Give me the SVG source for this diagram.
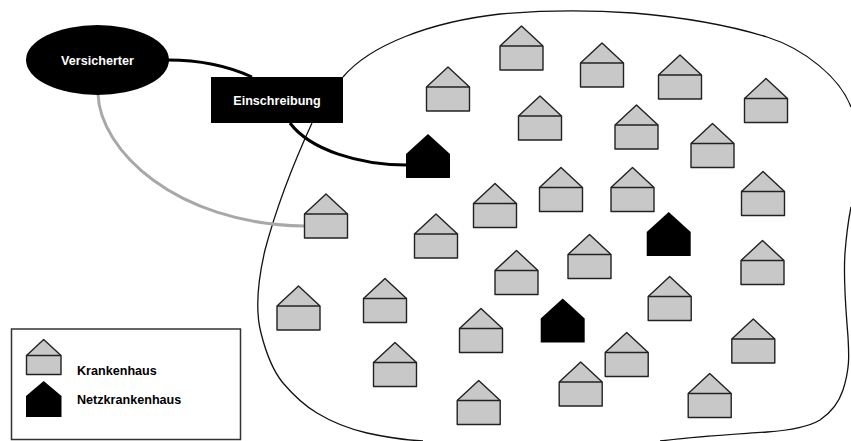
<svg xmlns="http://www.w3.org/2000/svg" width="851" height="441" viewBox="0 0 851 441">
<style>
.t{font-family:"Liberation Sans",Arial,sans-serif;font-weight:700;font-size:12.6px}
.w{fill:#fff;text-anchor:middle}
.h{fill:#c8c8c8;stroke:#222;stroke-width:1.4;stroke-linejoin:round}
.b{fill:#000;stroke:none}
.c{fill:none;stroke-linecap:butt}
</style>
<defs>
<g id="hs"><path class="h" d="M-21.5 20L0 0L21.5 20V44H-21.5Z"/><path class="h" d="M-21.5 20H21.5"/></g>
<path id="bk" class="b" d="M-22 20L0 0L22 20V44H-22Z"/>
</defs>
<rect width="851" height="441" fill="#fff"/>
<g id="connectors">
<path id="region" class="c" stroke="#111" stroke-width="1.3" d="M343 77C370 45 430 22 500 14C545 10 590 10 633 13C680 17 725 24 767 37C805 49 840 78 851 107M312 123C295 160 277 205 265 250C258 280 255 310 261 333C267 357 274 372 283 383C295 397 305 406 317 413C335 424 350 429 367 433C385 437 405 440 423 441M660 441C700 436 740 434 767 432C795 430 810 426 820 420C832 412 839 402 843 390C850 368 849 355 848 337C846 310 843 280 845 253C846 240 848 222 851 207"/>
<path class="c" stroke="#000" stroke-width="3" d="M168 60C200 60 228 66 252 77"/>
<path class="c" stroke="#000" stroke-width="3" d="M290 123C310 150 360 165 406 165"/>
<path class="c" stroke="#a8a8a8" stroke-width="3" d="M98 94C100 150 175 224 304 226"/>
</g>
<g id="versicherter"><ellipse cx="97.500" cy="60" rx="71.500" ry="35" fill="#000"/><text class="t w" x="97.500" y="64.500">Versicherter</text></g>
<g id="einschreibung"><rect x="211" y="77" width="132" height="46" fill="#000"/><text class="t w" x="277" y="104.500">Einschreibung</text></g>
<g id="house-1"><use href="#hs" x="521.500" y="26"/></g>
<g id="house-2"><use href="#hs" x="602" y="43"/></g>
<g id="house-3"><use href="#hs" x="680" y="55"/></g>
<g id="house-4"><use href="#hs" x="766" y="78.500"/></g>
<g id="house-5"><use href="#hs" x="540" y="96"/></g>
<g id="house-6"><use href="#hs" x="636.500" y="105"/></g>
<g id="house-7"><use href="#hs" x="712.500" y="123.500"/></g>
<g id="house-8"><use href="#hs" x="561" y="167.500"/></g>
<g id="house-9"><use href="#hs" x="632.500" y="167.500"/></g>
<g id="house-10"><use href="#hs" x="763" y="171.500"/></g>
<g id="house-11"><use href="#hs" x="448" y="67"/></g>
<g id="house-12"><use href="#hs" x="326" y="194"/></g>
<g id="house-13"><use href="#hs" x="436" y="214"/></g>
<g id="house-14"><use href="#hs" x="495" y="183.500"/></g>
<g id="house-15"><use href="#hs" x="589.500" y="234.500"/></g>
<g id="house-16"><use href="#hs" x="516.500" y="250.500"/></g>
<g id="house-17"><use href="#hs" x="762.500" y="240.500"/></g>
<g id="house-18"><use href="#hs" x="669.700" y="276.500"/></g>
<g id="house-19"><use href="#hs" x="626.700" y="332.500"/></g>
<g id="house-20"><use href="#hs" x="580.700" y="362"/></g>
<g id="house-21"><use href="#hs" x="753.300" y="319"/></g>
<g id="house-22"><use href="#hs" x="709.700" y="373.500"/></g>
<g id="house-23"><use href="#hs" x="298.500" y="286"/></g>
<g id="house-24"><use href="#hs" x="385" y="278.500"/></g>
<g id="house-25"><use href="#hs" x="481" y="308.500"/></g>
<g id="house-26"><use href="#hs" x="395" y="342.500"/></g>
<g id="house-27"><use href="#hs" x="478.700" y="380.500"/></g>
<g id="network-1"><use href="#bk" x="428" y="134"/></g>
<g id="network-2"><use href="#bk" x="668.700" y="212"/></g>
<g id="network-3"><use href="#bk" x="562.700" y="298.500"/></g>
<g id="legend">
<rect x="11.500" y="329" width="229" height="110.500" fill="#fff" stroke="#333" stroke-width="1.5"/>
<path class="h" d="M26.500 355.500L43.700 339.500L61 355.500V374.500H26.500Z"/><path class="h" d="M26.500 355.500H61"/>
<path class="b" d="M26 396L43.700 381L61.500 396V417H26Z"/>
<text class="t" x="77" y="374.500">Krankenhaus</text>
<text class="t" x="77" y="403.700">Netzkrankenhaus</text>
</g>
</svg>
